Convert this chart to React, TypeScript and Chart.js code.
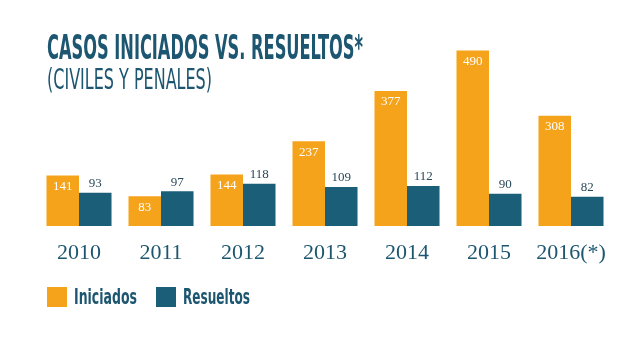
import React, { useEffect, useRef } from "react";
import { Chart, registerables } from "chart.js";

Chart.register(...registerables);

const categories = ["2010", "2011", "2012", "2013", "2014", "2015", "2016(*)"];
const iniciados = [141, 83, 144, 237, 377, 490, 308];
const resueltos = [93, 97, 118, 109, 112, 90, 82];
const seriesNames = ["Iniciados", "Resueltos"];
const titleText = "CASOS INICIADOS VS. RESUELTOS*";
const subtitleText = "(CIVILES Y PENALES)";

const ORANGE = "#F6A31C";
const TEAL = "#1B5E77";
const DARK = "#1D5670";
const NARROW = '"Liberation Sans Narrow", "DejaVu Sans Condensed", "Liberation Sans", sans-serif';
const SERIF = '"Liberation Serif", "DejaVu Serif", serif';

function drawFit(ctx: CanvasRenderingContext2D, text: string, x: number, y: number, font: string, color: string, width: number) {
  ctx.save();
  ctx.font = font;
  ctx.fillStyle = color;
  ctx.textAlign = "left";
  ctx.textBaseline = "alphabetic";
  const w = ctx.measureText(text).width || 1;
  ctx.translate(x, y);
  ctx.scale(width / w, 1);
  ctx.fillText(text, 0, 0);
  ctx.restore();
}

const overlayPlugin = {
  id: "overlay",
  afterDatasetsDraw(chart: any) {
    const ctx: CanvasRenderingContext2D = chart.ctx;
    // value labels
    chart.data.datasets.forEach((ds: any, di: number) => {
      const meta = chart.getDatasetMeta(di);
      meta.data.forEach((bar: any, i: number) => {
        const v = ds.data[i];
        ctx.save();
        ctx.font = `13px ${SERIF}`;
        ctx.textAlign = "center";
        ctx.textBaseline = "middle";
        if (di === 0) {
          ctx.fillStyle = "#FFFFFF";
          ctx.fillText(String(v), bar.x, bar.y + 11);
        } else {
          ctx.fillStyle = "#2A4A5A";
          ctx.fillText(String(v), bar.x, bar.y - 9);
        }
        ctx.restore();
      });
    });
    // title
    drawFit(ctx, titleText, 47, 59, `bold 33px ${NARROW}`, DARK, 316);
    drawFit(ctx, subtitleText, 47, 89, `28px ${NARROW}`, DARK, 165);
    // legend
    const legendX = [47, 156];
    const textW = [63, 67];
    chart.data.datasets.forEach((ds: any, di: number) => {
      ctx.save();
      ctx.fillStyle = ds.backgroundColor;
      ctx.fillRect(legendX[di], 287, 20, 20);
      ctx.restore();
      drawFit(ctx, ds.label, legendX[di] + 27, 303.5, `bold 22px ${NARROW}`, DARK, textW[di]);
    });
  },
};

export default function App() {
  const ref = useRef<HTMLCanvasElement | null>(null);
  useEffect(() => {
    if (!ref.current) return;
    const chart = new Chart(ref.current, {
      type: "bar",
      data: {
        labels: categories,
        datasets: [
          { label: seriesNames[0], data: iniciados, backgroundColor: ORANGE, borderWidth: 0 },
          { label: seriesNames[1], data: resueltos, backgroundColor: TEAL, borderWidth: 0 },
        ],
      },
      options: {
        responsive: false,
        animation: false,
        events: [],
        layout: { padding: { left: 38, right: 28, top: 47, bottom: 91 } },
        datasets: { bar: { barPercentage: 1, categoryPercentage: 0.793 } },
        plugins: { legend: { display: false }, title: { display: false }, tooltip: { enabled: false } },
        scales: {
          x: {
            grid: { display: false, drawTicks: false },
            border: { display: false },
            ticks: { color: DARK, font: { family: SERIF, size: 22 }, padding: 14, maxRotation: 0, autoSkip: false },
            afterFit: (scale: any) => { scale.height = 40; },
          },
          y: { display: false, min: 0, max: 500 },
        },
      },
      plugins: [overlayPlugin],
    } as any);
    return () => chart.destroy();
  }, []);
  return (
    <div style={{ position: "absolute", left: 0, top: 0, width: 640, height: 357, background: "#fff" }}>
      <canvas ref={ref} width={640} height={357} style={{ display: "block" }} />
    </div>
  );
}
